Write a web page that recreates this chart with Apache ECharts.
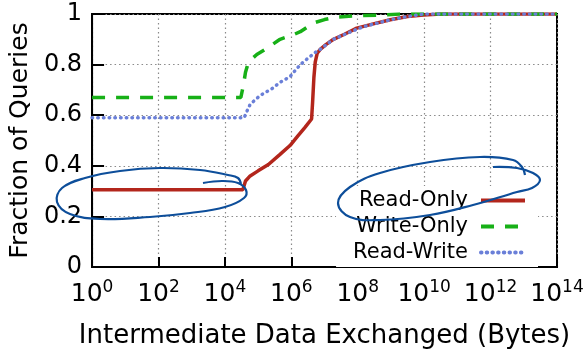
<!DOCTYPE html>
<html>
<head>
<meta charset="utf-8">
<script src="https://cdn.jsdelivr.net/npm/echarts@6/dist/echarts.min.js"></script>
<style>html,body{margin:0;padding:0;background:#fff}#c{width:588px;height:354px}</style>
</head>
<body>
<div id="c"></div>
<script>
// x values are log10(bytes)
const readOnlyX = [0, 4.54, 4.62, 4.76, 5.0, 5.31, 5.66, 5.96, 6.21, 6.4, 6.61, 6.64, 6.68, 6.72, 6.78, 6.87, 7.05, 7.27, 7.6, 7.97, 8.5, 8.98, 9.5, 9.98, 10.5, 14];
const readOnlyY = [0.305, 0.305, 0.34, 0.36, 0.38, 0.405, 0.445, 0.48, 0.52, 0.55, 0.585, 0.65, 0.75, 0.81, 0.845, 0.86, 0.88, 0.90, 0.92, 0.944, 0.962, 0.977, 0.99, 0.996, 1.0, 1.0];
const writeOnlyX = [0, 4.48, 4.56, 4.62, 4.71, 4.96, 5.21, 5.66, 6.06, 6.27, 6.66, 7.0, 7.37, 8.0, 8.67, 9.3, 14];
const writeOnlyY = [0.67, 0.67, 0.72, 0.77, 0.81, 0.84, 0.86, 0.90, 0.918, 0.93, 0.964, 0.978, 0.988, 0.993, 0.996, 1.0, 1.0];
const readWriteX = [0, 4.58, 4.66, 4.76, 5.01, 5.16, 5.41, 5.66, 5.96, 6.06, 6.27, 6.5, 6.77, 6.87, 7.27, 7.7, 8.17, 8.98, 9.5, 10.0, 14];
const readWriteY = [0.59, 0.59, 0.615, 0.643, 0.672, 0.686, 0.704, 0.73, 0.752, 0.768, 0.80, 0.825, 0.853, 0.86, 0.90, 0.925, 0.95, 0.977, 0.99, 1.0, 1.0];
const seriesNames = ['Read-Only', 'Write-Only', 'Read-Write'];
const xTickExps = ['0', '2', '4', '6', '8', '10', '12', '14'];
const yTickLabels = ['0', '0.2', '0.4', '0.6', '0.8', '1'];

const zip = (xs, ys) => xs.map((x, i) => [x, ys[i]]);
const FONT = 'DejaVu Sans';
const chart = echarts.init(document.getElementById('c'));
const gridLine = {show: true, lineStyle: {color: '#8a8a8a', width: 1.2, type: [1.5, 3]}};
const ann = '#0d4e9a';
chart.setOption({
  animation: false,
  textStyle: {fontFamily: FONT},
  grid: {left: 92, right: 31, top: 14, bottom: 83, show: true, borderColor: '#000', borderWidth: 2, containLabel: false},
  xAxis: {
    type: 'value', min: 0, max: 14, interval: 2,
    name: 'Intermediate Data Exchanged (Bytes)', nameLocation: 'middle', nameGap: 56,
    nameTextStyle: {fontSize: 26, color: '#000', fontFamily: FONT},
    axisLine: {show: true, lineStyle: {color: '#000', width: 2}},
    axisTick: {show: true, inside: true, length: 10, lineStyle: {color: '#000', width: 2}},
    splitLine: gridLine,
    axisLabel: {
      color: '#000', margin: 12,
      formatter: v => '{b|10}{s|' + xTickExps[Math.round(v / 2)] + '}',
      rich: {
        b: {fontSize: 25, fontFamily: FONT, color: '#000', lineHeight: 30},
        s: {fontSize: 17, fontFamily: FONT, color: '#000', verticalAlign: 'top', lineHeight: 18}
      }
    }
  },
  yAxis: {
    type: 'value', min: 0, max: 1, interval: 0.2,
    name: 'Fraction of Queries', nameLocation: 'middle', nameGap: 57, nameRotate: 90,
    nameTextStyle: {fontSize: 25, color: '#000', fontFamily: FONT},
    axisLine: {show: true, lineStyle: {color: '#000', width: 2}},
    axisTick: {show: true, inside: true, length: 12, lineStyle: {color: '#000', width: 2}},
    splitLine: gridLine,
    axisLabel: {
      color: '#000', fontSize: 24, fontFamily: FONT, margin: 10,
      formatter: v => yTickLabels[Math.round(v * 5)]
    }
  },
  legend: {
    orient: 'vertical', align: 'right', right: 50, top: 186,
    backgroundColor: '#fff', padding: [4, 11, 4, 17],
    itemWidth: 44, itemHeight: 20, itemGap: 5,
    itemStyle: {opacity: 0},
    lineStyle: {width: 4},
    textStyle: {fontSize: 21, fontFamily: FONT, color: '#000', lineHeight: 20, padding: [0, 8, 0, 0]},
    data: seriesNames
  },
  series: [
    {name: seriesNames[0], type: 'line', data: zip(readOnlyX, readOnlyY), symbol: 'none', showSymbol: false, z: 3,
     lineStyle: {color: '#b3261c', width: 3.5}, itemStyle: {color: '#b3261c'}},
    {name: seriesNames[1], type: 'line', data: zip(writeOnlyX, writeOnlyY), symbol: 'none', showSymbol: false, z: 4,
     lineStyle: {color: '#17b017', width: 3.5, type: [13, 11]}, itemStyle: {color: '#17b017'}},
    {name: seriesNames[2], type: 'line', data: zip(readWriteX, readWriteY), symbol: 'none', showSymbol: false, z: 5,
     lineStyle: {color: '#6a7fd8', width: 3.5, type: [0.5, 5.2], cap: 'round'}, itemStyle: {color: '#6a7fd8'}}
  ],
  graphic: [
    {type: 'polyline', z: 100, silent: true,
     shape: {smooth: 0.4, points: [[203,183],[222,181],[238,183],[246,190],[244,198],[225,207],[190,213],[150,217],[100,219],[70,214],[57,202],[62,188],[85,178],[120,171],[160,168],[200,170],[228,175],[238,178],[241,184]]},
     style: {stroke: ann, lineWidth: 2.2, fill: null}},
    {type: 'polyline', z: 100, silent: true,
     shape: {smooth: 0.4, points: [[493,167],[517,168],[533,173],[540,180],[532,188],[517,192],[473,205],[430,215],[380,220],[350,217],[338,203],[350,187],[380,173],[430,162],[480,157],[513,160],[522,167],[525,175]]},
     style: {stroke: ann, lineWidth: 2.2, fill: null}}
  ]
});
</script>
</body>
</html>
